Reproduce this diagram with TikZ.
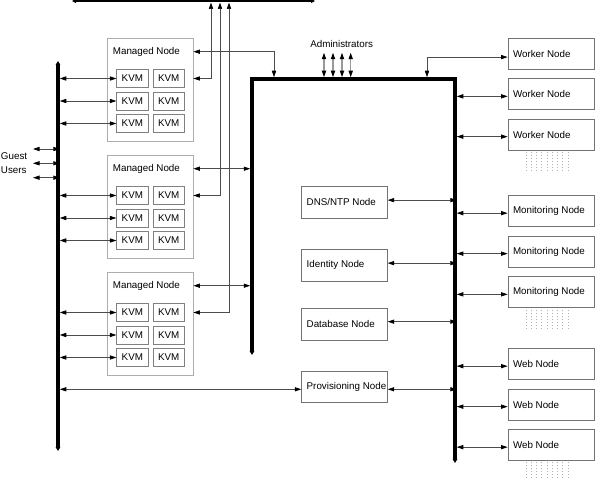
\documentclass[tikz,border=0pt]{standalone}
\usepackage{fontspec}
\setmainfont{Liberation Sans}
\usetikzlibrary{arrows.meta}
\newcommand\padtext[2]{\makebox[#1][l]{\hspace{5pt}#2}}
\begin{document}
\begin{tikzpicture}[x=1pt,y=-1pt,
  font=\fontsize{9.8}{11}\selectfont,
  >={Triangle[length=6.5pt,width=4.2pt,color=black]},
  conn/.style={draw=black!70, line width=0.7pt, <->},
  admconn/.style={draw=black!40, line width=1.1pt, <->},
  bus/.style={draw=black, line width=3.5pt, line join=miter,
    {Triangle[length=4pt,width=4.6pt]}-{Triangle[length=4pt,width=4.6pt]}},
  topbus/.style={draw=black, line width=3pt,
    {Triangle[length=4pt,width=4pt]}-{Triangle[length=4pt,width=4pt]}},
  kvm/.style={draw=black!50, line width=0.8pt, minimum width=31.3pt, minimum height=18pt, inner sep=0pt},
  mnbox/.style={draw=black!32, line width=0.8pt, minimum width=86pt, minimum height=103pt, inner sep=0pt},
  nbox/.style={draw=black!55, line width=0.8pt, minimum height=31pt, inner sep=0pt},
  cbox/.style={draw=black!55, line width=0.8pt, minimum height=32pt, inner sep=0pt},
  lbl/.style={inner sep=0pt},
  dotcol/.style={draw=black!30, line width=0.7pt, dash pattern=on 0.7pt off 2.3pt}
]
\useasboundingbox (0,0) rectangle (595,478);

% buses
\coordinate (tbL) at (72,1);
\coordinate (tbR) at (315,1);
\draw[topbus] (tbL) -- (tbR);
\coordinate (lbT) at (58,61);
\coordinate (lbB) at (58,451);
\draw[bus] (lbT) -- (lbB);
\coordinate (cbA) at (252,355);
\coordinate (cbB) at (252,79);
\coordinate (cbC) at (455,79);
\coordinate (cbD) at (455,463);
\draw[bus] (cbA) -- (cbB) -- (cbC) -- (cbD);
\coordinate (lbx) at (59.75,0);
\coordinate (cbL) at (250.25,0);
\coordinate (cbR) at (456.75,0);
\coordinate (cbTop) at (0,77.25);

% managed nodes
\foreach \m/\t in {1/38,2/155,3/272} {
  \node[mnbox] (mn\m) at (150,\t+51.5) {};
  \node[lbl, anchor=west] (mnl\m) at (112.7,\t+13.7) {Managed Node};
  \foreach \r/\dy in {1/40.5,2/63,3/85.5} {
    \node[kvm] (k-\m-\r-a) at (132.35,\t+\dy) {KVM};
    \node[kvm] (k-\m-\r-b) at (168.7,\t+\dy) {KVM};
    \draw[conn] (k-\m-\r-a.west -| lbx) -- (k-\m-\r-a.west);
  }
}

% lines from the top bar
\coordinate (tb1) at (211,2.5);
\coordinate (tb2) at (220,2.5);
\coordinate (tb3) at (229,2.5);
\draw[conn] (tb1) |- (mn1.east |- k-1-1-b);
\draw[conn] (tb2) |- (mn2.east |- k-2-1-b);
\draw[conn] (tb3) |- (mn3.east |- k-3-1-b);

% managed node labels to central bus
\coordinate (cbt1) at (274,77.25);
\draw[conn] (mn1.east |- mnl1) -| (cbt1);
\draw[conn] (mn2.east |- mnl2) -- (cbL |- mnl2);
\draw[conn] (mn3.east |- mnl3) -- (cbL |- mnl3);

% guest users
\node[lbl, align=left, anchor=west, font=\fontsize{9.8}{14.5}\selectfont] (guest) at (0.8,163.3) {Guest\\Users};
\foreach \i/\yy in {1/149,2/163.3,3/177.7} {
  \coordinate (g\i) at (33,\yy);
  \draw[conn] (g\i) -- (g\i -| lbx);
}

% administrators
\node[lbl] (adm) at (341.7,44) {Administrators};
\foreach \i/\xx in {1/324,2/333,3/342,4/350.7} {
  \coordinate (a\i) at (\xx,52.7);
  \draw[admconn] (a\i) -- (a\i |- cbTop);
}

% central nodes
\node[cbox] (dns) at (344.5,202.15) {\padtext{85.6pt}{DNS/NTP Node}};
\node[cbox] (idn) at (344.5,265.15) {\padtext{85.6pt}{Identity Node}};
\node[cbox] (dbn) at (344.5,324.15) {\padtext{85.6pt}{Database Node}};
\node[nbox] (prov) at (344.5,387) {\padtext{85.6pt}{Provisioning Node}};
\foreach \n/\s in {dns/2,idn/2,dbn/2.5,prov/-2.3} {
  \draw[conn] ([yshift=\s pt]\n.east) -- ([yshift=\s pt]\n.east -| cbR);
}
\draw[conn] ([yshift=-2.3pt]prov.west -| lbx) -- ([yshift=-2.3pt]prov.west);

% right-hand nodes
\foreach \n/\yy/\txt in {w1/53.8/Worker Node,w2/94.35/Worker Node,w3/134.65/Worker Node,
  m1/211.15/Monitoring Node,m2/251.65/Monitoring Node,m3/292.35/Monitoring Node,
  b1/364.15/Web Node,b2/404.65/Web Node,b3/445.15/Web Node} {
  \node[nbox] (\n) at (551,\yy) {\padtext{86pt}{\txt}};
}
\foreach \n in {w2,w3,m1,m2,m3,b1,b2,b3} {
  \draw[conn] ([yshift=-2pt]\n.west -| cbR) -- ([yshift=-2pt]\n.west);
}
\coordinate (cbt2) at (427,77.25);
\draw[conn] (cbt2) |- ([yshift=-3.3pt]w1.west);

% dotted stacks
\foreach \yy in {152,310,462} {
  \foreach \i in {0,...,8} {
    \draw[dotcol] (526+\i*5.25,\yy) -- ++(0,20);
  }
}
\end{tikzpicture}
\end{document}
